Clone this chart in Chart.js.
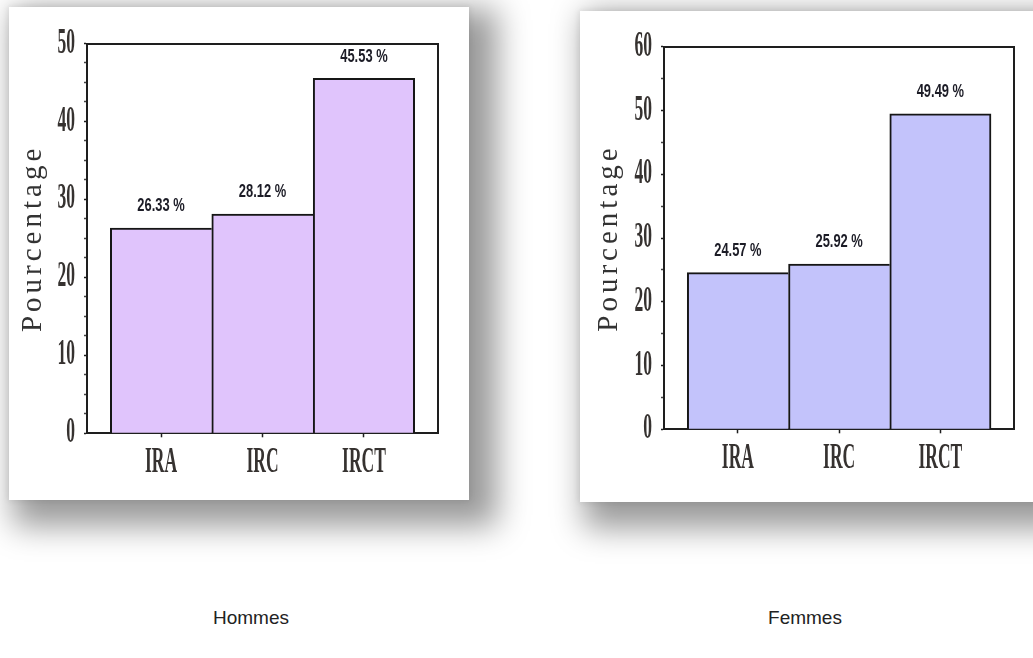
<!DOCTYPE html>
<html>
<head>
<meta charset="utf-8">
<script src="https://cdn.jsdelivr.net/npm/chart.js@4.4.1/dist/chart.umd.min.js"></script>
<style>
  html, body { margin: 0; padding: 0; background: #fff; width: 1033px; height: 658px; overflow: hidden; position: relative; }
  .card { position: absolute; background: #fff;
          box-shadow: 16px 14px 30px 12px rgba(0,0,0,0.40), 0 0 6px 1px rgba(0,0,0,0.08); }
  .card canvas { display: block; }
  .caption { position: absolute; width: 200px; text-align: center;
             font-family: "Liberation Sans", Arial, sans-serif; font-size: 19px; color: #222; }
</style>
</head>
<body>
<div class="card" style="left:9px; top:7px; width:460px; height:493px;">
  <canvas id="chartHommes" width="460" height="493"></canvas>
</div>
<div class="card" style="left:580px; top:11px; width:460px; height:491px;">
  <canvas id="chartFemmes" width="460" height="491"></canvas>
</div>
<div class="caption" id="capHommes" style="left:151px; top:607px;"></div>
<div class="caption" id="capFemmes" style="left:705px; top:607px;"></div>

<script>
// Data
const categories = ['IRA', 'IRC', 'IRCT'];
const hommesValues = [26.33, 28.12, 45.53];
const femmesValues = [24.57, 25.92, 49.49];
const hommesTickLabels = [0, 10, 20, 30, 40, 50];
const femmesTickLabels = [0, 10, 20, 30, 40, 50, 60];
const axisTitle = 'Pourcentage';
const groupLabels = ['Hommes', 'Femmes'];

document.getElementById('capHommes').textContent = groupLabels[0];
document.getElementById('capFemmes').textContent = groupLabels[1];

// Narrow serif axis text; letter-spaced rotated axis title
const narrowText = {
  id: 'narrowText',
  beforeDraw(chart) {
    const ctx = chart.ctx;
    if (ctx.__narrowed) return;
    ctx.__narrowed = true;
    const fill = ctx.fillText;
    ctx.fillText = function (text, x, y, maxWidth) {
      const m = this.getTransform();
      if (Math.abs(m.b) > 1e-6) {
        const prev = this.letterSpacing;
        this.letterSpacing = '4px';
        fill.call(this, text, x, y);
        this.letterSpacing = prev;
        return;
      }
      if (this.font.indexOf('Liberation Serif') >= 0 && String(text).length) {
        const w = this.measureText(text).width * 0.5;
        fill.call(this, text, x, y, w);
        return;
      }
      if (maxWidth === undefined) fill.call(this, text, x, y);
      else fill.call(this, text, x, y, maxWidth);
    };
  }
};

// Percentage labels above each bar
const valueLabels = {
  id: 'valueLabels',
  afterDatasetsDraw(chart) {
    const ctx = chart.ctx;
    const ds = chart.data.datasets[0];
    const meta = chart.getDatasetMeta(0);
    ctx.save();
    ctx.font = 'bold 19px "Liberation Sans", Arial, sans-serif';
    ctx.fillStyle = '#1c1c26';
    ctx.textAlign = 'center';
    ctx.textBaseline = 'middle';
    meta.data.forEach((bar, i) => {
      const text = ds.data[i].y.toFixed(2) + ' %';
      const w = ctx.measureText(text).width * 0.68;
      ctx.fillText(text, bar.x, bar.y - 22, w);
    });
    ctx.restore();
  }
};

function buildChart(canvasId, values, fillColor, yMax, minorStep, tickLabels, box) {
  const lineColor = '#1e1e1e';
  const serif = 'Liberation Serif';
  const tickText = '#363230';
  return new Chart(document.getElementById(canvasId), {
    type: 'bar',
    data: {
      datasets: [{
        data: values.map((v, i) => ({ x: i, y: v })),
        backgroundColor: fillColor,
        borderColor: '#161616',
        borderWidth: (c) => (c.dataIndex === values.length - 1
          ? { top: 2, left: 2, right: 2, bottom: 0 }
          : { top: 2, left: 2, right: 0, bottom: 0 }),
        barPercentage: 1,
        categoryPercentage: 1
      }]
    },
    options: {
      responsive: false,
      animation: false,
      events: [],
      layout: { padding: { left: 0, right: box.padRight, top: box.padTop, bottom: 0 } },
      plugins: { legend: { display: false }, tooltip: { enabled: false }, title: { display: false } },
      scales: {
        x: {
          type: 'linear', position: 'bottom', z: 1, offset: false,
          min: -0.73, max: 2.73,
          afterBuildTicks: (s) => { s.ticks = categories.map((_, i) => ({ value: i })); },
          afterFit: (s) => { s.height = box.xHeight; },
          ticks: {
            callback: (v) => categories[v] ?? '',
            autoSkip: false, maxRotation: 0, padding: 5,
            color: tickText, font: { family: serif, size: 35, weight: 'bold' }
          },
          grid: { offset: false, drawOnChartArea: false, drawTicks: true, tickLength: 4, tickColor: lineColor, tickWidth: 1.5 },
          border: { color: lineColor, width: 2 }
        },
        y: {
          type: 'linear', position: 'left', z: 1,
          min: 0, max: yMax,
          afterBuildTicks: (s) => {
            const t = [];
            for (let v = 0; v <= yMax + 1e-9; v += minorStep) t.push({ value: v });
            s.ticks = t;
          },
          afterFit: (s) => { s.width = box.yWidth; },
          ticks: {
            callback: (v) => (tickLabels.includes(v) ? String(v) : ''),
            autoSkip: false, padding: 9,
            color: tickText, font: { family: serif, size: 35, weight: 'bold' }
          },
          grid: {
            drawOnChartArea: false, drawTicks: true, tickLength: 3,
            tickColor: (c) => (c.tick && tickLabels.includes(c.tick.value) ? lineColor : '#444'),
            tickWidth: (c) => (c.tick && tickLabels.includes(c.tick.value) ? 1.6 : 1.3)
          },
          border: { color: lineColor, width: 2 },
          title: {
            display: true, text: axisTitle, color: '#333',
            font: { family: serif, size: 29 },
            padding: { top: box.titlePad, bottom: 0 }
          }
        },
        frameTop: {
          type: 'linear', position: 'top', z: 1, min: 0, max: 1,
          afterFit: (s) => { s.height = 0; },
          ticks: { display: false },
          grid: { display: false },
          border: { color: lineColor, width: 2 }
        },
        frameRight: {
          type: 'linear', position: 'right', z: 1, min: 0, max: 1,
          afterFit: (s) => { s.width = 0; },
          ticks: { display: false },
          grid: { display: false },
          border: { color: lineColor, width: 2 }
        }
      }
    },
    plugins: [narrowText, valueLabels]
  });
}

buildChart('chartHommes', hommesValues, '#E0C4FC', 50, 2.5, hommesTickLabels,
  { padRight: 31, padTop: 36.5, xHeight: 66.7, yWidth: 78, titlePad: 7 });
buildChart('chartFemmes', femmesValues, '#C3C3FB', 60, 5, femmesTickLabels,
  { padRight: 25.7, padTop: 35.7, xHeight: 72.7, yWidth: 84, titlePad: 12 });
</script>
</body>
</html>
